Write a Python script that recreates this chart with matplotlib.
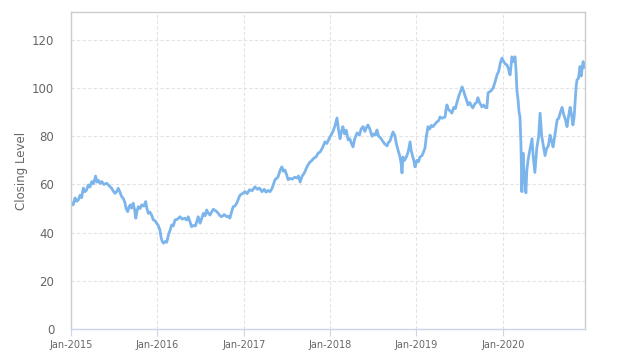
import matplotlib
matplotlib.use("Agg")
import matplotlib.pyplot as plt
import pandas as pd

# (date, closing level)
dates_2015 = ["2015-01-04", "2015-01-10", "2015-01-18", "2015-01-25", "2015-02-01", "2015-02-08",
              "2015-02-15", "2015-02-22", "2015-03-01", "2015-03-08", "2015-03-15", "2015-03-22",
              "2015-03-30", "2015-04-06", "2015-04-15", "2015-04-20", "2015-04-26", "2015-05-04",
              "2015-05-11", "2015-05-20", "2015-06-01", "2015-06-10", "2015-06-22", "2015-06-29",
              "2015-07-06", "2015-07-13", "2015-07-20", "2015-07-27", "2015-08-03", "2015-08-10",
              "2015-08-17", "2015-08-22", "2015-08-29", "2015-09-03", "2015-09-08", "2015-09-14",
              "2015-09-21", "2015-09-27", "2015-10-02", "2015-10-07", "2015-10-13", "2015-10-20",
              "2015-10-27", "2015-11-05", "2015-11-13", "2015-11-18", "2015-11-24", "2015-12-01",
              "2015-12-08", "2015-12-15", "2015-12-22", "2015-12-29"]
close_2015 = [52.2, 51.5, 54.4, 53.0, 53.6, 55.5,
              54.5, 58.5, 57.0, 57.7, 59.8, 58.9,
              61.2, 60.3, 63.5, 61.0, 61.8, 60.4,
              61.2, 60.0, 60.5, 59.6, 58.4, 57.2,
              56.3, 57.0, 58.4, 56.8, 55.0, 54.2,
              52.5, 50.0, 48.7, 50.5, 51.5, 50.2,
              52.2, 49.5, 46.0, 49.0, 50.8, 50.0,
              51.5, 51.0, 52.9, 50.0, 48.0, 48.5,
              47.3, 45.3, 45.0, 43.9]

dates_2016 = ["2016-01-05", "2016-01-12", "2016-01-17", "2016-01-22", "2016-01-28", "2016-02-03",
              "2016-02-10", "2016-02-17", "2016-02-24", "2016-03-02", "2016-03-09", "2016-03-16",
              "2016-03-25", "2016-04-06", "2016-04-15", "2016-04-27", "2016-05-04", "2016-05-11",
              "2016-05-18", "2016-05-25", "2016-06-03", "2016-06-10", "2016-06-16", "2016-06-22",
              "2016-06-30", "2016-07-07", "2016-07-14", "2016-07-21", "2016-07-28", "2016-08-04",
              "2016-08-11", "2016-08-18", "2016-08-25", "2016-09-05", "2016-09-15", "2016-09-22",
              "2016-09-29", "2016-10-10", "2016-10-21", "2016-10-28", "2016-11-03", "2016-11-10",
              "2016-11-17", "2016-11-24", "2016-12-02", "2016-12-09", "2016-12-16", "2016-12-26"]
close_2016 = [43.0, 41.1, 38.0, 36.3, 35.6, 36.3,
              36.0, 39.0, 41.0, 43.2, 42.8, 45.3,
              45.5, 46.6, 45.6, 46.0, 45.2, 46.6,
              44.5, 42.5, 43.0, 42.8, 44.6, 46.6,
              43.9, 46.0, 48.0, 47.0, 49.4, 48.0,
              47.3, 48.6, 49.7, 49.0, 48.0, 47.0,
              46.6, 47.5, 46.6, 46.8, 46.0, 48.5,
              50.8, 51.0, 52.2, 54.0, 55.6, 56.2]

dates_2017 = ["2017-01-06", "2017-01-15", "2017-01-25", "2017-02-05", "2017-02-17", "2017-02-27",
              "2017-03-08", "2017-03-19", "2017-03-28", "2017-04-05", "2017-04-13", "2017-04-22",
              "2017-05-01", "2017-05-13", "2017-05-25", "2017-06-04", "2017-06-11", "2017-06-17",
              "2017-06-24", "2017-07-01", "2017-07-07", "2017-07-16", "2017-07-25", "2017-08-04",
              "2017-08-14", "2017-08-20", "2017-08-27", "2017-09-05", "2017-09-15", "2017-09-25",
              "2017-10-05", "2017-10-16", "2017-10-25", "2017-11-03", "2017-11-11", "2017-11-20",
              "2017-12-01", "2017-12-10", "2017-12-18", "2017-12-31"]
close_2017 = [57.0, 56.2, 57.8, 57.4, 59.0, 58.0,
              58.5, 57.0, 58.0, 56.8, 57.5, 57.0,
              58.5, 62.0, 63.0, 66.0, 67.3, 65.5,
              66.0, 64.0, 62.0, 62.5, 62.2, 63.0,
              62.7, 63.5, 61.0, 63.5, 65.0, 67.3,
              69.0, 70.0, 71.0, 71.5, 73.0, 73.5,
              75.5, 77.7, 77.0, 79.7]

dates_2018 = ["2018-01-08", "2018-01-15", "2018-01-22", "2018-01-30", "2018-02-05", "2018-02-12",
              "2018-02-18", "2018-02-24", "2018-03-03", "2018-03-10", "2018-03-18", "2018-03-25",
              "2018-04-01", "2018-04-08", "2018-04-15", "2018-04-25", "2018-05-05", "2018-05-12",
              "2018-05-20", "2018-05-28", "2018-06-03", "2018-06-10", "2018-06-18", "2018-06-27",
              "2018-07-05", "2018-07-12", "2018-07-18", "2018-07-25", "2018-08-01", "2018-08-08",
              "2018-08-18", "2018-08-30", "2018-09-05", "2018-09-11", "2018-09-18", "2018-09-24",
              "2018-10-01", "2018-10-08", "2018-10-15", "2018-10-22", "2018-10-28", "2018-11-01",
              "2018-11-05", "2018-11-12", "2018-11-22", "2018-11-28", "2018-12-05", "2018-12-10",
              "2018-12-17", "2018-12-22", "2018-12-26"]
close_2018 = [81.0, 82.5, 84.5, 87.6, 83.0, 79.0,
              82.0, 84.0, 81.0, 82.5, 78.5, 79.0,
              77.0, 75.6, 79.0, 81.4, 80.5, 83.0,
              84.0, 82.0, 83.5, 84.7, 83.0, 80.0,
              81.0, 80.5, 82.6, 80.0, 79.5, 78.5,
              77.0, 76.0, 77.5, 78.0, 80.0, 81.8,
              80.5, 77.0, 74.3, 72.0, 69.0, 64.8,
              71.4, 70.0, 72.0, 74.0, 77.7, 74.0,
              71.4, 69.5, 67.3]

dates_2019 = ["2019-01-03", "2019-01-10", "2019-01-16", "2019-01-25", "2019-02-06", "2019-02-12",
              "2019-02-19", "2019-02-26", "2019-03-05", "2019-03-12", "2019-03-20", "2019-03-29",
              "2019-04-05", "2019-04-11", "2019-04-20", "2019-05-02", "2019-05-06", "2019-05-10",
              "2019-05-17", "2019-05-24", "2019-05-31", "2019-06-08", "2019-06-15", "2019-06-22",
              "2019-06-30", "2019-07-06", "2019-07-13", "2019-07-19", "2019-07-25", "2019-08-01",
              "2019-08-07", "2019-08-15", "2019-08-22", "2019-08-28", "2019-09-05", "2019-09-12",
              "2019-09-18", "2019-09-25", "2019-10-05", "2019-10-12", "2019-10-19", "2019-10-26",
              "2019-10-31", "2019-11-07", "2019-11-14", "2019-11-21", "2019-11-28", "2019-12-08",
              "2019-12-15", "2019-12-22", "2019-12-29"]
close_2019 = [70.0, 69.5, 71.4, 72.0, 75.0, 80.0,
              84.0, 83.0, 84.5, 84.0, 85.0, 86.0,
              86.5, 88.0, 87.5, 88.0, 91.0, 93.0,
              91.0, 90.5, 89.6, 92.0, 91.5, 94.3,
              97.0, 98.5, 100.5, 99.0, 97.0, 95.0,
              93.0, 94.0, 92.5, 91.8, 93.5, 94.0,
              96.0, 94.0, 92.2, 93.0, 92.0, 91.8,
              98.0, 98.5, 99.0, 100.0, 102.0, 105.5,
              107.0, 110.5, 112.5]

dates_2020 = ["2020-01-05", "2020-01-12", "2020-01-19", "2020-01-25", "2020-02-01", "2020-02-05",
              "2020-02-09", "2020-02-15", "2020-02-22", "2020-02-26", "2020-03-01", "2020-03-06",
              "2020-03-10", "2020-03-14", "2020-03-18", "2020-03-22", "2020-03-25", "2020-03-27",
              "2020-04-01", "2020-04-05", "2020-04-08", "2020-04-12", "2020-04-17", "2020-04-24",
              "2020-05-04", "2020-05-09", "2020-05-16", "2020-05-24", "2020-06-01", "2020-06-07",
              "2020-06-14", "2020-06-21", "2020-06-28", "2020-07-05", "2020-07-12", "2020-07-19",
              "2020-07-26", "2020-08-01", "2020-08-08", "2020-08-18", "2020-08-25", "2020-09-01",
              "2020-09-08", "2020-09-15", "2020-09-22", "2020-09-29", "2020-10-05", "2020-10-12",
              "2020-10-18", "2020-10-24", "2020-10-29", "2020-11-02", "2020-11-06", "2020-11-10",
              "2020-11-16", "2020-11-23", "2020-11-28", "2020-12-02", "2020-12-06", "2020-12-10",
              "2020-12-14"]
close_2020 = [111.0, 110.0, 109.6, 108.0, 105.5, 109.0,
              113.0, 111.0, 113.0, 108.0, 99.0, 95.0,
              90.0, 88.0, 77.0, 57.0, 68.0, 73.0,
              62.0, 60.0, 56.5, 66.0, 70.0, 74.0,
              79.0, 71.5, 65.0, 75.0, 80.0, 89.6,
              80.0, 76.0, 72.0, 75.0, 76.0, 80.5,
              78.0, 75.6, 80.0, 86.8, 87.5, 90.0,
              92.0, 89.0, 87.0, 84.0, 88.0, 92.0,
              89.0, 84.7, 88.0, 94.0, 100.0, 103.4,
              104.0, 109.0, 105.0, 108.0, 111.0, 108.5,
              109.0]

tick_labels = ["Jan-2015", "Jan-2016", "Jan-2017", "Jan-2018", "Jan-2019", "Jan-2020"]
tick_dates = ["2015-01-01", "2016-01-01", "2017-01-01", "2018-01-01", "2019-01-01", "2020-01-01"]
y_ticks = [0, 20, 40, 60, 80, 100, 120]

dates = dates_2015 + dates_2016 + dates_2017 + dates_2018 + dates_2019 + dates_2020
closing = close_2015 + close_2016 + close_2017 + close_2018 + close_2019 + close_2020
x = pd.to_datetime(dates)

fig = plt.figure(figsize=(6.24, 3.62), dpi=100)
ax = fig.add_axes([0.1138, 0.0912, 0.8237, 0.8757])

ax.plot(x, closing, color="#7cb5ec", linewidth=2, solid_joinstyle="round")

ax.set_xlim(pd.Timestamp("2015-01-01"), pd.Timestamp("2020-12-14"))
ax.set_ylim(0, 131.6)
ax.set_yticks(y_ticks)
ax.set_yticklabels([str(v) for v in y_ticks])
ax.set_xticks(pd.to_datetime(tick_dates))
ax.set_xticklabels(tick_labels)

ax.grid(True, color="#e3e3e3", linestyle=(0, (3, 2)), linewidth=0.8)
ax.set_axisbelow(True)
for s in ax.spines.values():
    s.set_color("#cccccc")
    s.set_linewidth(1.0)
ax.spines["bottom"].set_color("#ccd6eb")

ax.tick_params(axis="y", length=0, pad=12, labelsize=8.5, labelcolor="#666666")
ax.tick_params(axis="x", length=5, color="#ccd6eb", pad=3, labelsize=7, labelcolor="#666666")
ax.set_ylabel("Closing Level", fontsize=8.5, color="#666666", labelpad=3)

fig.savefig("out.png", dpi=100)
